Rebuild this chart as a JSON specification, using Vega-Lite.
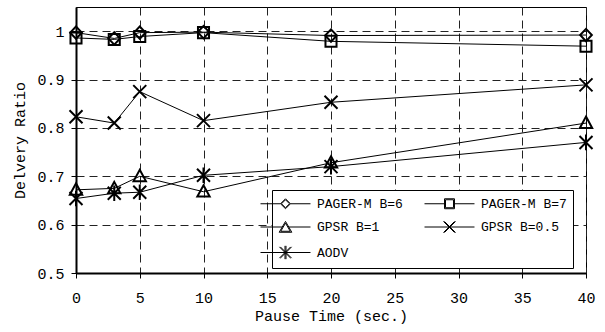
{
  "$schema": "https://vega.github.io/schema/vega-lite/v6.json",
  "width": 510,
  "height": 266,
  "autosize": {"type": "none"},
  "padding": {"left": 76, "top": 7, "right": 19, "bottom": 59},
  "background": "white",
  "config": {
    "view": {"stroke": "black", "strokeWidth": 1},
    "font": "Liberation Mono",
    "axis": {
      "grid": true,
      "gridDash": [8, 5],
      "gridColor": "#222",
      "gridWidth": 1,
      "gridOpacity": 1,
      "domainColor": "black",
      "domainWidth": 2,
      "tickColor": "black",
      "tickSize": 5,
      "tickWidth": 1,
      "labelFont": "Liberation Mono",
      "labelFontSize": 15,
      "labelColor": "black",
      "labelFlush": false,
      "labelOverlap": false,
      "titleFont": "Liberation Mono",
      "titleFontSize": 15,
      "titleFontWeight": "normal",
      "titleColor": "black"
    }
  },
  "data": {
    "values": [
      {"x": 0, "y": 0.997, "s": "PAGER-M B=6"},
      {"x": 3, "y": 0.985, "s": "PAGER-M B=6"},
      {"x": 5, "y": 0.997, "s": "PAGER-M B=6"},
      {"x": 10, "y": 0.998, "s": "PAGER-M B=6"},
      {"x": 20, "y": 0.991, "s": "PAGER-M B=6"},
      {"x": 40, "y": 0.992, "s": "PAGER-M B=6"},
      {"x": 0, "y": 0.986, "s": "PAGER-M B=7"},
      {"x": 3, "y": 0.983, "s": "PAGER-M B=7"},
      {"x": 5, "y": 0.989, "s": "PAGER-M B=7"},
      {"x": 10, "y": 0.997, "s": "PAGER-M B=7"},
      {"x": 20, "y": 0.979, "s": "PAGER-M B=7"},
      {"x": 40, "y": 0.969, "s": "PAGER-M B=7"},
      {"x": 0, "y": 0.672, "s": "GPSR B=1"},
      {"x": 3, "y": 0.675, "s": "GPSR B=1"},
      {"x": 5, "y": 0.700, "s": "GPSR B=1"},
      {"x": 10, "y": 0.668, "s": "GPSR B=1"},
      {"x": 20, "y": 0.728, "s": "GPSR B=1"},
      {"x": 40, "y": 0.810, "s": "GPSR B=1"},
      {"x": 0, "y": 0.823, "s": "GPSR B=0.5"},
      {"x": 3, "y": 0.810, "s": "GPSR B=0.5"},
      {"x": 5, "y": 0.875, "s": "GPSR B=0.5"},
      {"x": 10, "y": 0.815, "s": "GPSR B=0.5"},
      {"x": 20, "y": 0.853, "s": "GPSR B=0.5"},
      {"x": 40, "y": 0.889, "s": "GPSR B=0.5"},
      {"x": 0, "y": 0.654, "s": "AODV"},
      {"x": 3, "y": 0.665, "s": "AODV"},
      {"x": 5, "y": 0.667, "s": "AODV"},
      {"x": 10, "y": 0.702, "s": "AODV"},
      {"x": 20, "y": 0.720, "s": "AODV"},
      {"x": 40, "y": 0.770, "s": "AODV"}
    ]
  },
  "encoding": {
    "x": {
      "field": "x",
      "type": "quantitative",
      "scale": {"domain": [0, 40], "nice": false},
      "axis": {
        "values": [0, 5, 10, 15, 20, 25, 30, 35, 40],
        "title": "Pause Time (sec.)",
        "labelPadding": 12,
        "titlePadding": 3
      }
    },
    "y": {
      "field": "y",
      "type": "quantitative",
      "scale": {"domain": [0.5, 1.05], "nice": false, "zero": false},
      "axis": {
        "values": [0.5, 0.6, 0.7, 0.8, 0.9, 1.0],
        "format": ".1~f",
        "title": "Delvery Ratio",
        "labelPadding": 7,
        "titlePadding": 9
      }
    }
  },
  "layer": [
    {
      "mark": {"type": "line", "stroke": "black", "strokeWidth": 1},
      "encoding": {"detail": {"field": "s"}}
    },
    {
      "mark": {"type": "point", "filled": false, "stroke": "black", "strokeWidth": 2, "size": 169, "opacity": 1},
      "encoding": {
        "shape": {
          "field": "s",
          "scale": {
            "domain": ["PAGER-M B=6", "PAGER-M B=7", "GPSR B=1", "GPSR B=0.5", "AODV"],
            "range": [
              "M0,-0.95L0.9,0L0,0.95L-0.9,0Z",
              "M-0.85,-0.85H0.85V0.85H-0.85Z",
              "M0,-1L0.95,0.75L-0.95,0.75Z",
              "M-1,-1L1,1M-1,1L1,-1",
              "M-1,-1L1,1M-1,1L1,-1M0,-1.2V1.2"
            ]
          },
          "legend": null
        }
      }
    },
    {
      "transform": [{"filter": "datum.x < 0"}],
      "mark": {"type": "point", "filled": false, "stroke": "black", "strokeWidth": 1, "size": 196, "opacity": 1},
      "encoding": {
        "shape": {
          "field": "s",
          "scale": {
            "domain": ["PAGER-M B=6", "GPSR B=1", "AODV", "PAGER-M B=7", "GPSR B=0.5"],
            "range": [
              "M-3.57,0H-0.71M0.71,0H3.57M0,-0.57L0.57,0L0,0.57L-0.57,0ZM0,-0.71L0.71,0L0,0.71L-0.71,0Z",
              "M-3.57,0H-0.46M0.46,0H3.57M0,-0.8L0.9,0.75L-0.9,0.75ZM0,-0.55L0.68,0.61L-0.68,0.61Z",
              "M-3.57,0H3.57M-0.87,-0.8L0.73,0.8M-0.73,-0.8L0.87,0.8M-0.87,0.8L0.73,-0.8M-0.73,0.8L0.87,-0.8M-0.07,-0.95V0.95M0.07,-0.95V0.95",
              "M-3.57,0H-0.71M0.71,0H3.57M-0.71,-0.71H0.71V0.71H-0.71ZM-0.57,-0.57H0.57V0.57H-0.57Z",
              "M-3.57,0H3.57M-0.87,-0.8L0.73,0.8M-0.73,-0.8L0.87,0.8M-0.87,0.8L0.73,-0.8M-0.73,0.8L0.87,-0.8"
            ]
          },
          "legend": {
            "title": null,
            "orient": "none",
            "legendX": 196,
            "legendY": 183,
            "columns": 2,
            "strokeColor": "black",
            "fillColor": "white",
            "padding": 6,
            "symbolSize": 196,
            "symbolStrokeWidth": 1,
            "symbolStrokeColor": "black",
            "symbolFillColor": "transparent",
            "symbolOpacity": 1,
            "labelFont": "Liberation Mono",
            "labelFontSize": 13,
            "labelColor": "black",
            "labelOffset": 24,
            "rowPadding": 7.5,
            "columnPadding": 19
          }
        }
      }
    }
  ],
  "resolve": {"scale": {"shape": "independent"}}
}
